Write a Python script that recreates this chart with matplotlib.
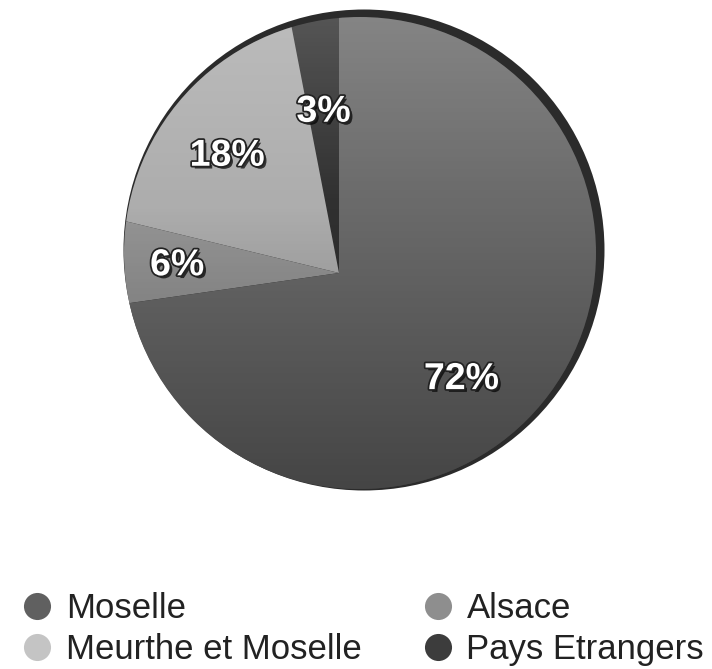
import matplotlib
matplotlib.use("Agg")
import matplotlib.pyplot as plt
import matplotlib.patheffects as pe
from matplotlib.patches import Circle
from matplotlib.lines import Line2D
import numpy as np

plt.rcParams['font.family'] = ['Liberation Sans', 'DejaVu Sans']

# parts (counter-clockwise from the top)
regions = ["Pays Etrangers", "Meurthe et Moselle", "Alsace", "Moselle"]
parts = [3, 18, 6, 72]
colors = ["#303030", "#adadad", "#959595", "#6a6a6a"]

# legend order (row by row) and marker colours
legend_names = ["Moselle", "Alsace", "Meurthe et Moselle", "Pays Etrangers"]
legend_colors = ["#606060", "#8e8e8e", "#c4c4c4", "#3c3c3c"]

W, H = 712, 669
fig = plt.figure(figsize=(W / 100, H / 100), dpi=100)
ax = fig.add_axes([0, 0, 1, 1])

total = sum(parts)
apex = (339, H - 273)          # where the slices meet
disc_c, disc_r = (360, H - 253), 236
rim_c, rim_r = (364, H - 250), 240.5

# dark rim behind the pie
ax.add_patch(Circle(rim_c, rim_r, facecolor="#2b2b2b", edgecolor="none", zorder=0))

wedges, texts, autotexts = ax.pie(
    parts, colors=colors, startangle=90, counterclock=True,
    center=apex, radius=300, pctdistance=0.54,
    autopct=lambda p: f"{p * total / 100:.0f}%",
    wedgeprops=dict(linewidth=0),
    textprops=dict(color="white", fontsize=27, fontweight="bold"))

for w in wedges:
    w.set_clip_on(True)
    w.set_clip_path(Circle(disc_c, disc_r, transform=ax.transData))
    w.set_zorder(1)

# soft vertical shading over the disc (light at the top, dark at the bottom)
n = 256
grad = np.zeros((n, 1, 4))
t = np.linspace(0, 1, n)
top = t < 0.4
grad[top, 0, :3] = 1.0
grad[top, 0, 3] = 0.18 * (1 - t[top] / 0.4)
grad[~top, 0, 3] = 0.35 * (t[~top] - 0.4) / 0.6
im = ax.imshow(grad, extent=(disc_c[0] - disc_r, disc_c[0] + disc_r,
                             disc_c[1] - disc_r, disc_c[1] + disc_r),
               aspect="auto", zorder=2, interpolation="bilinear")
im.set_clip_path(Circle(disc_c, disc_r, transform=ax.transData))

for t_ in autotexts:
    t_.set_zorder(5)
    t_.set_path_effects([
        pe.withSimplePatchShadow(offset=(2, -2), shadow_rgbFace="black", alpha=0.7),
        pe.withStroke(linewidth=2.5, foreground="#222222")])

ax.set_xlim(0, W)
ax.set_ylim(0, H)
ax.set_aspect("equal")
ax.axis("off")

handles = [Line2D([], [], linestyle="none", marker="o", markersize=19.5,
                  markerfacecolor=c, markeredgecolor="none") for c in legend_colors]
order = [0, 2, 1, 3]
fig.legend([handles[i] for i in order], [legend_names[i] for i in order],
           ncol=2, loc="upper left", bbox_to_anchor=(20 / W, 1 - 592 / H),
           frameon=False, fontsize=25, handlelength=1.0, handletextpad=0.32,
           columnspacing=1.7, labelspacing=0.24, borderpad=0, borderaxespad=0,
           labelcolor="#222222")

fig.savefig("out.png", dpi=100)
